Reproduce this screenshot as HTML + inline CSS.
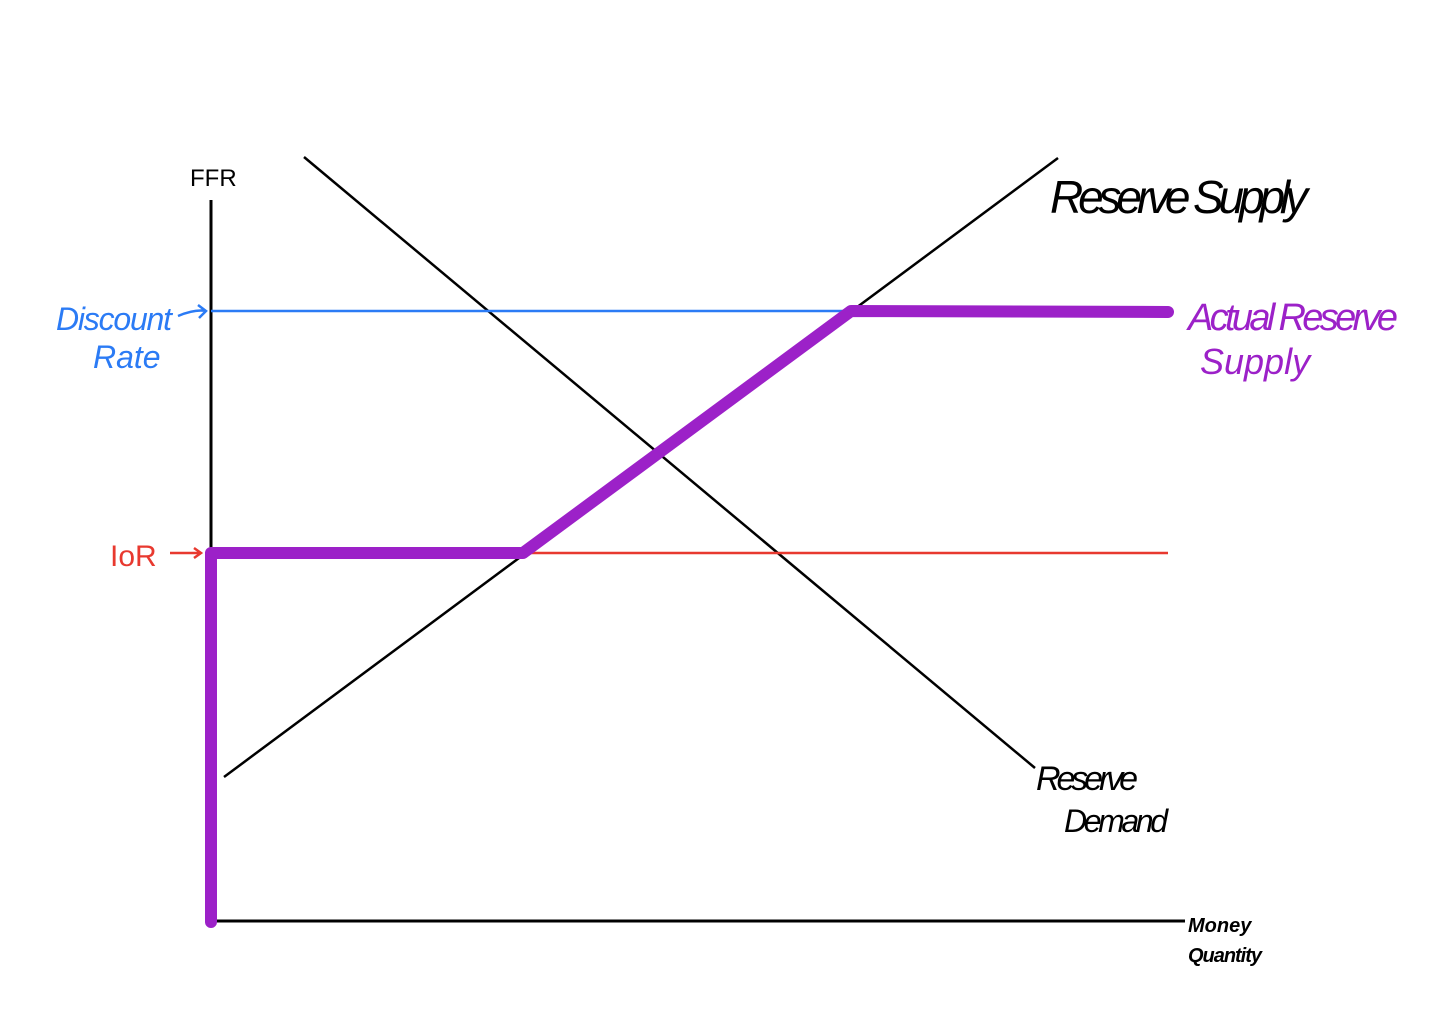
<!DOCTYPE html>
<html><head><style>html,body{margin:0;padding:0;background:#fff}</style></head>
<body>
<svg width="1450" height="1026" viewBox="0 0 1450 1026" xmlns="http://www.w3.org/2000/svg" font-family="Liberation Sans, sans-serif">
<rect width="1450" height="1026" fill="#fff"/>
<line x1="211" y1="200" x2="211" y2="922" stroke="#000" stroke-width="3"/>
<line x1="211" y1="921" x2="1185" y2="921" stroke="#000" stroke-width="3"/>
<line x1="304" y1="157" x2="1035" y2="768" stroke="#000" stroke-width="2.5"/>
<line x1="224" y1="777" x2="1058" y2="158" stroke="#000" stroke-width="2.5"/>
<line x1="211" y1="311" x2="852" y2="311" stroke="#2b7bf5" stroke-width="2.5"/>
<line x1="211" y1="553" x2="1168" y2="553" stroke="#e8392f" stroke-width="2.5"/>
<polyline points="211,922 211,553 523,553 851,311 1168,312" fill="none" stroke="#9c21c8" stroke-width="12" stroke-linecap="round" stroke-linejoin="round"/>
<path d="M178,316 Q195,309 206,311 M198,305 L206,311 L199,318" fill="none" stroke="#2b7bf5" stroke-width="2.5"/>
<path d="M170,553 L201,553 M194,548 L201,553 L194,558" fill="none" stroke="#e8392f" stroke-width="2.5"/>
<text x="190" y="186" font-size="24" fill="#000">FFR</text>
<text x="56" y="330" font-size="32" fill="#2b7bf5" font-style="italic" textLength="116">Discount</text>
<text x="93" y="368" font-size="32" fill="#2b7bf5" font-style="italic">Rate</text>
<text x="110" y="566" font-size="30" fill="#e8392f">IoR</text>
<text x="1050" y="213" font-size="46" fill="#000" font-style="italic" textLength="258">Reserve Supply</text>
<text x="1188" y="330" font-size="38" fill="#9c21c8" font-style="italic" textLength="210">Actual Reserve</text>
<text x="1200" y="374" font-size="36" fill="#9c21c8" font-style="italic">Supply</text>
<text x="1036" y="790" font-size="34" fill="#000" font-style="italic" textLength="102">Reserve</text>
<text x="1064" y="832" font-size="32" fill="#000" font-style="italic" textLength="104">Demand</text>
<text x="1188" y="932" font-size="20" fill="#000" font-weight="bold" font-style="italic">Money</text>
<text x="1188" y="962" font-size="20" fill="#000" font-weight="bold" font-style="italic" textLength="74">Quantity</text>
</svg>
</body></html>
